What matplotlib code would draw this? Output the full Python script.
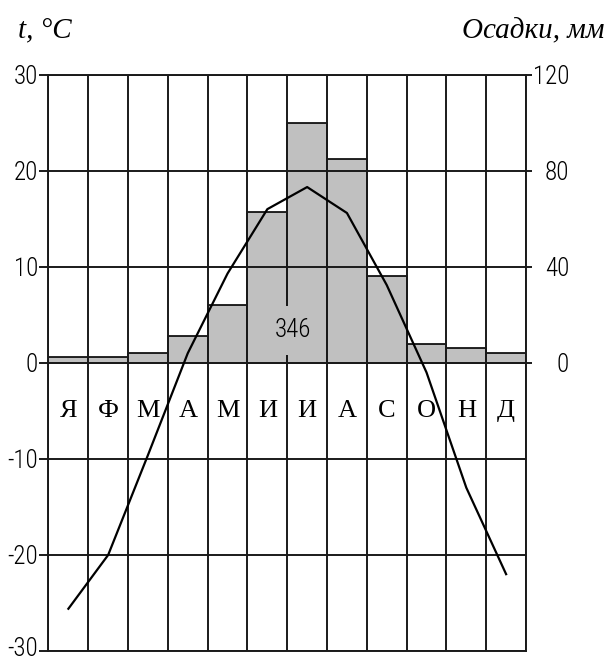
import numpy as np
import matplotlib
matplotlib.use('Agg')
import matplotlib.pyplot as plt
from matplotlib.transforms import ScaledTranslation

# data
months = ['Я', 'Ф', 'М', 'А', 'М', 'И', 'И', 'А', 'С', 'О', 'Н', 'Д']
temps = [-25.6, -20.0, -9.6, 1.0, 9.3, 16.0, 18.3, 15.6, 8.1, -1.0, -13.0, -22.0]
precip = [2.5, 2.5, 4, 11, 24, 63, 100, 85, 36, 8, 6, 4]
total_precip = '346'

t_ticks = [-30, -20, -10, 0, 10, 20, 30]
p_ticks = [0, 40, 80, 120]

num_font = ['Roboto Condensed', 'Liberation Sans', 'DejaVu Sans']
serif_font = ['Liberation Serif', 'DejaVu Serif']
grid_col = '#1a1a1a'
grid_lw = 1.4

fig = plt.figure(figsize=(6.06, 6.62), dpi=100)
ax = fig.add_axes([0.080, 0.0166, 0.788, 0.8706])
ax2 = ax.twinx()

x = np.arange(len(months))

# precipitation bars on the right axis (mm)
ax2.bar(x, precip, width=1.0, color='#c0c0c0', edgecolor='black', linewidth=1.2)
ax2.set_ylim(-120, 120)
ax2.set_yticks(p_ticks)
ax2.set_yticklabels([str(v) for v in p_ticks], fontsize=18, family=num_font, fontweight='light')
ax2.tick_params(axis='y', length=4, width=grid_lw, color=grid_col, pad=27)
for lab in ax2.get_yticklabels():
    lab.set_horizontalalignment('right')
for s in ax2.spines.values():
    s.set_visible(False)

# temperature axis on top of the bars
ax.set_zorder(ax2.get_zorder() + 1)
ax.patch.set_visible(False)
ax.set_xlim(-0.5, len(months) - 0.5)
ax.set_ylim(-30, 30)
ax.set_yticks(t_ticks)
ax.set_yticklabels([str(v) for v in t_ticks], fontsize=18, family=num_font, fontweight='light')
ax.tick_params(axis='y', length=6.5, width=grid_lw, color=grid_col, pad=1)
# lowest label sits on the edge, lift it a little
low = ax.get_yticklabels()[0]
low.set_transform(low.get_transform() + ScaledTranslation(0, 3 / 72, fig.dpi_scale_trans))
ax.set_xticks(np.arange(-0.5, len(months), 1.0))
ax.set_xticklabels([])
ax.tick_params(axis='x', length=0)
ax.grid(True, color=grid_col, linewidth=grid_lw)
for s in ax.spines.values():
    s.set_color(grid_col)
    s.set_linewidth(grid_lw)

ax.plot(x, temps, color='black', linewidth=1.6, zorder=4)

for i, m in enumerate(months):
    ax.text(i, -5, m, ha='center', va='center', fontsize=19, family=serif_font, zorder=3)

ax.text(5.65, 3.4, total_precip, ha='center', va='center', fontsize=18, family=num_font,
        fontweight='light', zorder=3,
        bbox=dict(facecolor='#c0c0c0', edgecolor='none', pad=9))

fig.text(0.030, 1 - 31 / 662, 't, °C', ha='left', va='center', fontsize=21,
         style='italic', family=serif_font)
fig.text(0.998, 1 - 31 / 662, 'Осадки, мм', ha='right', va='center', fontsize=21,
         style='italic', family=serif_font)

fig.savefig('out.png', dpi=100)
